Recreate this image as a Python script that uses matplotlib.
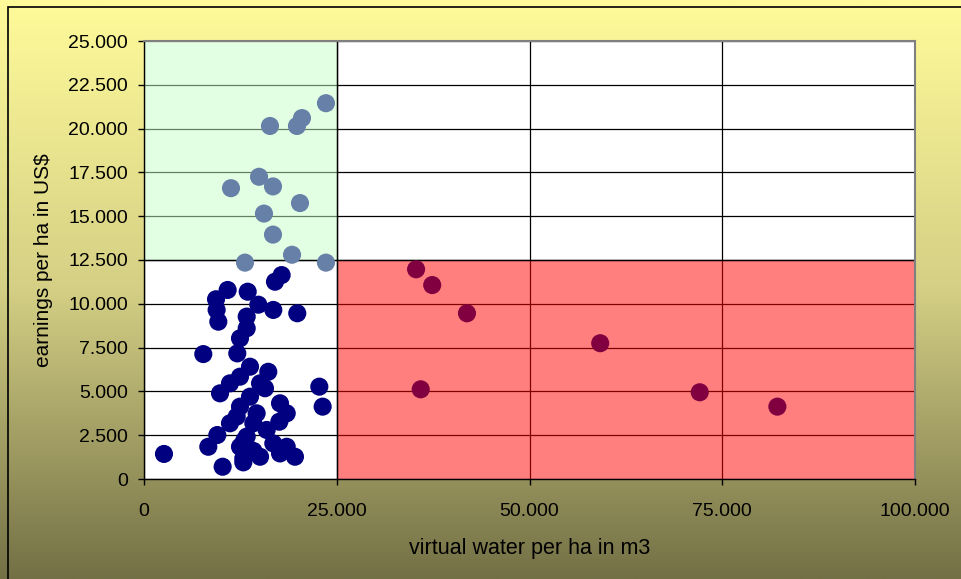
import numpy as np
import matplotlib
matplotlib.use("Agg")
import matplotlib.pyplot as plt
from matplotlib.colors import LinearSegmentedColormap
from matplotlib.patches import Rectangle
from matplotlib.ticker import FuncFormatter, MultipleLocator

# crops with high earnings and low water use
high_x = [23600, 20490, 19840, 16340, 11280, 14920, 16730, 15560, 20230, 16730, 19200, 13100, 23600]
high_y = [21450, 20600, 20150, 20150, 16600, 17250, 16700, 15150, 15750, 13950, 12800, 12350, 12350]

# crops with low earnings and low water use
low_x = [2590, 10200, 8340, 9510, 7690, 9640, 9420, 9340, 10850, 13450, 14830,
         16770, 19880, 16990, 17850, 13320, 13320, 12450, 12100, 13750, 16120,
         11150, 9860, 22740, 23170, 17640, 18510, 17550, 15690, 12450, 13750,
         12020, 11150, 13320, 12450, 12880, 15050, 16770, 18510, 19580, 17640,
         15910, 14610, 14180, 15050, 12450, 12880, 13000, 14200]
low_y = [1430, 700, 1840, 2510, 7130, 8980, 9650, 10260, 10790, 10690, 9950,
         9650, 9460, 11260, 11640, 9270, 8600, 8030, 7170, 6410, 6120,
         5460, 4890, 5270, 4130, 4320, 3750, 3270, 5180, 4130, 4700,
         3560, 3180, 2420, 1840, 1180, 1270, 2030, 1840, 1270, 1460,
         2800, 3750, 3180, 5460, 5840, 950, 2200, 1600]

# crops with high water use and low earnings
water_x = [35290, 37380, 41890, 59170, 35890, 72080, 82150]
water_y = [11970, 11070, 9460, 7750, 5120, 4950, 4130]

x_ticks = [0, 25000, 50000, 75000, 100000]
y_max = 25000
x_split = 25000
y_split = 12500

plt.rcParams['font.family'] = ['Liberation Sans', 'DejaVu Sans']

fig = plt.figure(figsize=(9.61, 5.79), dpi=100)

# background gradient
bg = fig.add_axes([0, 0, 1, 1], zorder=-10)
cmap = LinearSegmentedColormap.from_list('bg', ['#fffb9a', '#d4cf84', '#737046'])
grad = np.linspace(0, 1, 256).reshape(-1, 1)
bg.imshow(grad, aspect='auto', cmap=cmap, extent=[0, 1, 0, 1], origin='upper')
bg.set_xlim(0, 1)
bg.set_ylim(0, 1)
bg.axis('off')
bg.add_patch(Rectangle((8 / 961, -0.1), 1.2, 1 - 7 / 579 + 0.1, fill=False,
                       edgecolor='black', linewidth=1.2))

ax = fig.add_axes([144 / 961, 1 - 479 / 579, (915 - 144) / 961, (479 - 41) / 579])
ax.set_facecolor('white')
ax.set_xlim(0, 100000)
ax.set_ylim(0, y_max)

ax.xaxis.set_major_locator(MultipleLocator(25000))
ax.yaxis.set_major_locator(MultipleLocator(2500))
ax.grid(True, color='black', linewidth=0.9, zorder=0)
ax.set_axisbelow(True)

# quadrants
ax.add_patch(Rectangle((0, y_split), x_split, y_max - y_split,
                       facecolor='#c8ffc8', alpha=0.5, edgecolor='none', zorder=1))
ax.add_patch(Rectangle((x_split, 0), 100000 - x_split, y_split,
                       facecolor='#ff0000', alpha=0.5, edgecolor='none', zorder=1))
ax.axvline(x_split, ymin=0, ymax=1, color='black', linewidth=1.0, zorder=1.5)
ax.axhline(y_split, xmin=0, xmax=1, color='black', linewidth=1.0, zorder=1.5)

ax.scatter(low_x, low_y, s=170, color='#000080', edgecolors='none', zorder=3)
ax.scatter(high_x, high_y, s=170, color='#6680a8', edgecolors='none', zorder=4)
ax.scatter(water_x, water_y, s=170, color='#800040', edgecolors='none', zorder=3)

fmt = FuncFormatter(lambda v, p: f"{int(v):,}".replace(',', '.'))
ax.xaxis.set_major_formatter(fmt)
ax.yaxis.set_major_formatter(fmt)
ax.tick_params(axis='both', direction='out', length=4.5, width=1, labelsize=14,
               colors='black')
ax.tick_params(axis='y', pad=7)
ax.tick_params(axis='x', pad=13)
ax.set_xticks(x_ticks)

for side in ['top', 'right']:
    ax.spines[side].set_color('#808080')
    ax.spines[side].set_linewidth(1.5)
for side in ['left', 'bottom']:
    ax.spines[side].set_color('black')
    ax.spines[side].set_linewidth(1.0)

ax.set_xlabel('virtual water per ha in m3', fontsize=15.5, labelpad=13)
ax.set_ylabel('earnings per ha in US$', fontsize=15, labelpad=11)

fig.savefig('out.png', dpi=100)
